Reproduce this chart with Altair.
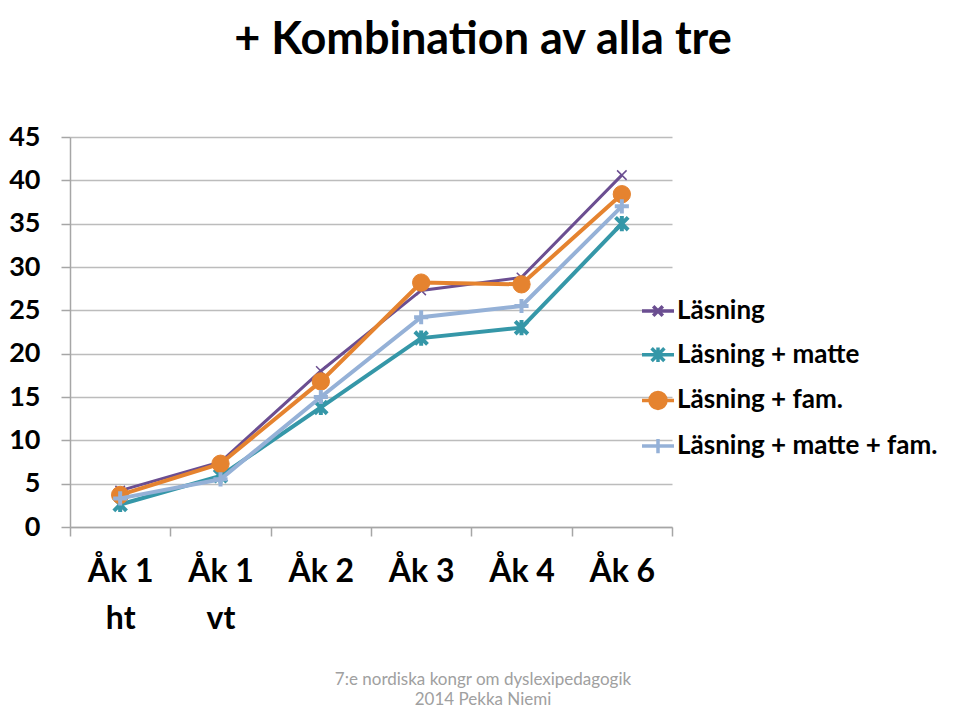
import altair as alt
import pandas as pd

categories = ["Åk 1 ht", "Åk 1 vt", "Åk 2", "Åk 3", "Åk 4", "Åk 6"]
series_names = ["Läsning", "Läsning + matte", "Läsning + fam.", "Läsning + matte + fam."]
lasning = [4.2, 7.5, 18.0, 27.3, 28.8, 40.6]
lasning_matte = [2.6, 5.9, 13.8, 21.8, 23.0, 35.0]
lasning_fam = [3.7, 7.3, 16.8, 28.2, 28.0, 38.4]
lasning_matte_fam = [3.3, 5.5, 15.0, 24.2, 25.5, 37.0]
y_ticks = [0, 5, 10, 15, 20, 25, 30, 35, 40, 45]
title_text = "+ Kombination av alla tre"
footer_lines = ["7:e nordiska kongr om dyslexipedagogik", "2014 Pekka Niemi"]

colors = ["#6b4e91", "#3597a8", "#e5832f", "#95b1d7"]
values = [lasning, lasning_matte, lasning_fam, lasning_matte_fam]

FONT = "Lato"

rows = []
for s, vals in zip(series_names, values):
    for c, v in zip(categories, vals):
        rows.append({"serie": s, "kat": c, "varde": v})
df = pd.DataFrame(rows)

x_enc = alt.X(
    "kat:N",
    sort=categories,
    bandPosition=0.5,
    scale=alt.Scale(type="band", domain=categories, paddingInner=0, paddingOuter=0),
    axis=alt.Axis(
        title=None,
        tickBand="extent",
        labelAngle=0,
        labelFont=FONT,
        labelFontSize=32,
        labelFontWeight="bold",
        labelColor="#000000",
        labelPadding=20,
        labelLineHeight=47,
        labelBaseline="top",
        labelExpr="length(datum.label) > 4 ? [substring(datum.label,0,4), substring(datum.label,5)] : datum.label",
        domainColor="#a6a6a6",
        domainWidth=1.5,
        tickColor="#a6a6a6",
        tickWidth=1.5,
        tickSize=9,
        grid=False,
    ),
)
y_enc = alt.Y(
    "varde:Q",
    scale=alt.Scale(domain=[0, 45], nice=False, zero=True),
    axis=alt.Axis(
        title=None,
        values=y_ticks,
        labelFont=FONT,
        labelFontSize=27,
        labelFontWeight="bold",
        labelColor="#000000",
        labelPadding=21,
        domainColor="#a6a6a6",
        domainWidth=1.5,
        tickColor="#a6a6a6",
        tickWidth=1.5,
        tickSize=9,
        grid=True,
        gridColor="#bcbcbc",
        gridWidth=1.5,
    ),
)

marker_paths = [
    "M-1,-1L1,1M-1,1L1,-1",
    "M-1,-1L1,1M-1,1L1,-1M0,-1.2L0,1.2",
    "circle",
    "M-1,0L1,0M0,-1L0,1",
]
marker_sizes = [90, 160, 300, 200]
marker_strokes = [1.5, 4, 1, 4]
line_widths = [3, 4, 4, 4]

layers = []
for i, s in enumerate(series_names):
    base = alt.Chart(df).transform_filter(alt.datum.serie == s)
    line = base.mark_line(color=colors[i], strokeWidth=line_widths[i]).encode(x=x_enc, y=y_enc)
    if marker_paths[i] == "circle":
        pts = base.mark_point(shape="circle", filled=True, fill=colors[i], stroke=colors[i],
                              size=marker_sizes[i], opacity=1, strokeWidth=1).encode(x=x_enc, y=y_enc)
    else:
        pts = base.mark_point(shape=marker_paths[i], filled=False, stroke=colors[i],
                              size=marker_sizes[i], opacity=1,
                              strokeWidth=marker_strokes[i]).encode(x=x_enc, y=y_enc)
    layers += [line, pts]

legend_shapes = [
    "M-1,0L1,0M-0.3,-0.3L0.3,0.3M-0.3,0.3L0.3,-0.3",
    "M-1,0L1,0M-0.4,-0.4L0.4,0.4M-0.4,0.4L0.4,-0.4M0,-0.45L0,0.45",
    "M-1,0L1,0M0.5,0A0.5,0.5 0 1,1 -0.5,0A0.5,0.5 0 1,1 0.5,0Z",
    "M-1,0L1,0M0,-0.45L0,0.45",
]
leg = alt.Legend(
    title=None,
    orient="none",
    legendX=570,
    legendY=156,
    labelFont=FONT,
    labelFontSize=26,
    labelFontWeight="bold",
    labelColor="#000000",
    labelOffset=1,
    symbolSize=1024,
    symbolStrokeWidth=3.5,
    rowPadding=12.7,
    labelLimit=400,
)
legend_layer = alt.Chart(df).transform_filter("false").mark_point(
    size=1024, opacity=1, strokeWidth=3.5, filled=True
).encode(
    x=x_enc,
    y=y_enc,
    fill=alt.Fill("serie:N", scale=alt.Scale(domain=series_names, range=colors), legend=leg),
    stroke=alt.Stroke("serie:N", scale=alt.Scale(domain=series_names, range=colors), legend=leg),
    shape=alt.Shape("serie:N", scale=alt.Scale(domain=series_names, range=legend_shapes), legend=leg),
)
layers.append(legend_layer)

footer = alt.Chart(pd.DataFrame({"t": [0]})).mark_text(
    text=footer_lines,
    font=FONT,
    fontSize=17,
    color="#a0a0a0",
    align="center",
    baseline="alphabetic",
    lineHeight=20,
).encode(x=alt.value(413), y=alt.value(548))
layers.append(footer)

chart = alt.layer(*layers).properties(
    width=602,
    height=390,
    autosize=alt.AutoSizeParams(type="none"),
    padding={"left": 62, "top": 129, "right": 280, "bottom": 183},
    title=alt.TitleParams(
        text=title_text,
        font=FONT,
        fontSize=45,
        fontWeight="bold",
        color="#000000",
        anchor="middle",
        frame="group",
        dx=112,
        offset=60,
    ),
).configure_view(stroke=None)

chart.save("out.html", embed_options={"renderer": "svg", "actions": False})
